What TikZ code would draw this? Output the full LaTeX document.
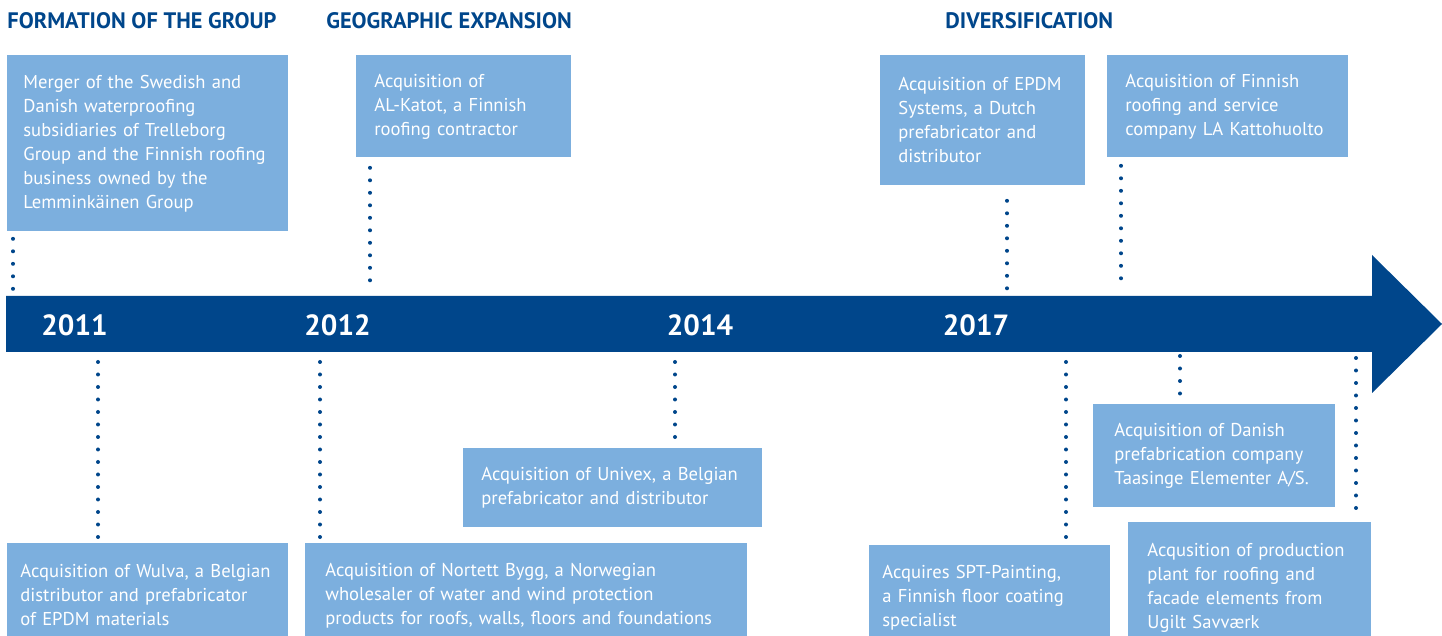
\documentclass[tikz,border=0pt]{standalone}
\usepackage{fontspec}
\setmainfont{PT Sans}
\usetikzlibrary{calc}
\hyphenpenalty=10000
\definecolor{navy}{RGB}{0,70,139}
\definecolor{paleblue}{RGB}{124,175,222}
\tikzset {
    evbox/.style = {fill = paleblue, text = white, anchor = north west,
        inner xsep = 9pt, inner ysep = 0pt, align = left,
        font = \fontsize{9.3pt}{12pt}\selectfont},
    heading/.style = {anchor = base west, inner sep = 0pt, text = navy,
        font = \fontsize{11.2pt}{13pt}\selectfont\bfseries},
    year/.style = {text = white, inner sep = 0pt,
        font = \fontsize{14.6pt}{17pt}\selectfont\bfseries},
    dotline/.style = {navy, line width = 2pt, line cap = round,
        dash pattern = on 0pt off 6.25pt},
}
\begin{document}
\begin{tikzpicture}[x = 0.5pt, y = -0.5pt]
    \useasboundingbox (0, 0) rectangle (1442, 636);
    % headings
    \node[heading] (h1) at (7, 29) {FORMATION OF THE GROUP};
    \node[heading] (h2) at (326, 29) {GEOGRAPHIC EXPANSION};
    \node[heading] (h3) at (945, 29) {DIVERSIFICATION};
    % time line
    \fill[navy] (6, 296) -- (1372, 296) -- (1372, 255) -- (1442, 324)
        -- (1372, 393) -- (1372, 352) -- (6, 352) -- cycle;
    \node[year] (y11) at (74.5, 325) {2011};
    \node[year] (y12) at (337.5, 325) {2012};
    \node[year] (y14) at (700, 325) {2014};
    \node[year] (y17) at (976, 325) {2017};
    % events above
    \node[evbox, text width = 124.5pt, inner xsep = 8pt, minimum height = 88pt] (m1) at (7, 55)
        {Merger of the Swedish and\\ Danish waterproofing\\ subsidiaries of Trelleborg\\
         Group and the Finnish roofing\\ business owned by the\\ Lemminkäinen Group};
    \node[evbox, text width = 89.5pt, minimum height = 51pt] (m2) at (356, 55)
        {Acquisition of\\ AL-Katot, a Finnish\\ roofing contractor};
    \node[evbox, text width = 84.5pt, minimum height = 65pt] (m3) at (880, 55)
        {Acquisition of EPDM\\ Systems, a Dutch\\ prefabricator and\\ distributor};
    \node[evbox, text width = 102.5pt, minimum height = 51pt] (m4) at (1107, 55)
        {Acquisition of Finnish\\ roofing and service\\ company LA Kattohuolto};
    % events below
    \node[evbox, text width = 127.5pt, inner xsep = 6.5pt, minimum height = 52pt] (m5) at (7, 543)
        {Acquisition of Wulva, a Belgian\\ distributor and prefabricator\\ of EPDM materials};
    \node[evbox, text width = 201pt, inner xsep = 10pt, minimum height = 52pt] (m6) at (305, 543)
        {Acquisition of Nortett Bygg, a Norwegian\\ wholesaler of water and wind protection\\
         products for roofs, walls, floors and foundations};
    \node[evbox, text width = 131.5pt, minimum height = 39.5pt] (m7) at (463, 448)
        {Acquisition of Univex, a Belgian\\ prefabricator and distributor};
    \node[evbox, text width = 107.5pt, inner xsep = 6.5pt, minimum height = 52pt] (m8) at (869, 545)
        {Acquires SPT-Painting,\\ a Finnish floor coating\\ specialist};
    \node[evbox, text width = 100pt, inner xsep = 10.5pt, minimum height = 51.5pt] (m9) at (1093, 404)
        {Acquisition of Danish\\ prefabrication company\\ Taasinge Elementer A/S.};
    \node[evbox, text width = 102.5pt, inner xsep = 9.5pt, minimum height = 65pt] (m10) at (1128, 522)
        {Acqusition of production\\ plant for roofing and\\ facade elements from\\ Ugilt Savværk};
    % ends of the dotted links on the bar
    \coordinate (u1) at (13, 290);
    \coordinate (u2) at (370, 290);
    \coordinate (u3) at (1007, 290);
    \coordinate (u4) at (1121, 290);
    \coordinate (d5) at (98, 362);
    \coordinate (d6) at (320, 362);
    \coordinate (d7) at (675, 362);
    \coordinate (d8) at (1066, 362);
    \coordinate (d9) at (1180, 356);
    \coordinate (d10) at (1356, 358);
    \draw[dotline] ([yshift = -3.5pt]m1.south -| u1) -- (u1);
    \draw[dotline] ([yshift = -5pt]m2.south -| u2) -- (u2);
    \draw[dotline] ([yshift = -7.5pt]m3.south -| u3) -- (u3);
    \draw[dotline] ([yshift = -4pt]m4.south -| u4) -- (u4);
    \draw[dotline] (d5) -- ([yshift = 2.5pt]m5.north -| d5);
    \draw[dotline] (d6) -- ([yshift = 2.5pt]m6.north -| d6);
    \draw[dotline] (d7) -- ([yshift = 4pt]m7.north -| d7);
    \draw[dotline] (d8) -- ([yshift = 3.5pt]m8.north -| d8);
    \draw[dotline] (d9) -- ([yshift = 3pt]m9.north -| d9);
    \draw[dotline] (d10) -- ([yshift = 2pt]m10.north -| d10);
\end{tikzpicture}
\end{document}
